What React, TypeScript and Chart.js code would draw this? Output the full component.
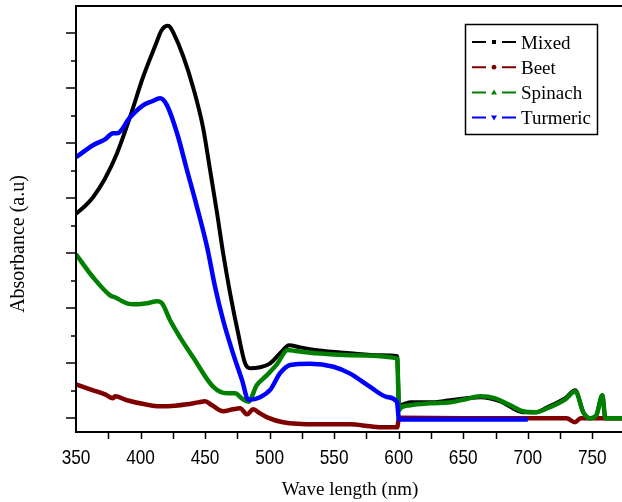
import { useEffect, useRef } from 'react';
import { Chart, registerables } from 'chart.js';

Chart.register(...registerables);

// Absorption spectra of the dye extracts (wavelength in nm, absorbance in a.u.)
const mixedNm = [350, 357, 363.2, 372.5, 381.8, 391.9, 401.9, 412.6, 415.9, 418.6, 420.6, 422.6, 425.4, 433.2, 440.7, 448.4, 453.9, 459.3, 464, 469.4, 475.6, 481, 484.9, 492.6, 500.4, 508.1, 515.1, 523.6, 536.8, 562.4, 585.7, 598.8, 600.3, 608.9, 624.4, 639.9, 663.2, 678.7, 696.5, 705.8, 715.1, 729.1, 736.8, 743, 748.4, 753.1, 757.8, 760.1, 773];
const mixedAbs = [1.86, 1.93, 2.01, 2.18, 2.41, 2.74, 3.1, 3.423, 3.52, 3.558, 3.568, 3.56, 3.505, 3.287, 3.01, 2.645, 2.255, 1.864, 1.5, 1.136, 0.773, 0.5, 0.455, 0.464, 0.5, 0.591, 0.664, 0.645, 0.618, 0.591, 0.573, 0.564, 0.118, 0.145, 0.145, 0.164, 0.191, 0.155, 0.055, 0.055, 0.1, 0.182, 0.255, 0.055, 0.0, 0.027, 0.209, 0.0, 0.0];

const beetNm = [350, 363.2, 372.5, 378.7, 380.2, 389.5, 403.5, 415.1, 426.7, 436, 444.6, 450, 455.4, 464, 471.7, 477.1, 482.6, 487.2, 492.6, 498.1, 510.5, 536.8, 562.4, 577.9, 588, 598.8, 600.3, 650, 700, 730, 736.5, 741, 773];
const beetAbs = [0.309, 0.255, 0.218, 0.182, 0.2, 0.164, 0.127, 0.109, 0.114, 0.127, 0.145, 0.155, 0.118, 0.064, 0.082, 0.091, 0.036, 0.082, 0.045, 0.009, -0.036, -0.055, -0.055, -0.073, -0.082, -0.082, 0.005, 0.0, 0.0, 0.0, -0.036, 0.0, 0.0];

const spinachNm = [350, 363.2, 376.4, 380.2, 389.5, 397.3, 405, 412.8, 416.7, 422.9, 430.6, 440.7, 456.4, 466.8, 473.3, 478.4, 483.6, 490, 497.8, 505.6, 514, 520, 536.8, 562.4, 598.8, 600.3, 601.2, 608.9, 624.4, 639.9, 651.6, 663.2, 674.8, 686.4, 696.5, 705.8, 715.1, 729.1, 736.8, 743, 748.4, 753.1, 757.8, 760.1, 773];
const spinachAbs = [1.491, 1.282, 1.118, 1.1, 1.045, 1.036, 1.045, 1.064, 1.045, 0.891, 0.736, 0.555, 0.285, 0.227, 0.227, 0.182, 0.151, 0.3, 0.39, 0.49, 0.62, 0.612, 0.591, 0.573, 0.545, 0.073, 0.091, 0.118, 0.136, 0.145, 0.173, 0.2, 0.182, 0.118, 0.064, 0.055, 0.091, 0.173, 0.245, 0.055, 0.0, 0.027, 0.209, 0.0, 0.0];

const turmericNm = [350, 363.2, 372.5, 378.7, 381.8, 391.9, 401.9, 408.9, 415.1, 420.5, 428.3, 436, 443.8, 451.6, 457.8, 464, 470.9, 478.7, 483.6, 492.6, 500.4, 508.1, 515.9, 531.4, 549.5, 562.4, 577.9, 590.9, 598.6, 600.3, 700];
const turmericAbs = [2.373, 2.482, 2.536, 2.591, 2.591, 2.736, 2.845, 2.882, 2.909, 2.845, 2.591, 2.255, 1.918, 1.555, 1.191, 0.891, 0.618, 0.345, 0.167, 0.192, 0.258, 0.41, 0.485, 0.497, 0.469, 0.406, 0.285, 0.194, 0.151, -0.01, -0.01];

const xMajorTicks = [350, 400, 450, 500, 550, 600, 650, 700, 750];
const xMinorTicks = [375, 425, 475, 525, 575, 625, 675, 725];
const yMajorTicks = [0, 0.5, 1, 1.5, 2, 2.5, 3, 3.5];
const yMinorTicks = [0.25, 0.75, 1.25, 1.75, 2.25, 2.75, 3.25];

const X_MIN = 350;
const X_MAX = 773;
const Y_MIN = -0.1245;
const Y_MAX = 3.748;

type Series = { label: string; nm: number[]; abs: number[]; color: string; width: number; marker: string };

const series: Series[] = [
  { label: 'Mixed', nm: mixedNm, abs: mixedAbs, color: '#000000', width: 4, marker: 'square' },
  { label: 'Beet', nm: beetNm, abs: beetAbs, color: '#800000', width: 4.5, marker: 'circle' },
  { label: 'Spinach', nm: spinachNm, abs: spinachAbs, color: '#008000', width: 4.5, marker: 'up' },
  { label: 'Turmeric', nm: turmericNm, abs: turmericAbs, color: '#0000FF', width: 4.5, marker: 'down' },
];

const SERIF = '"Liberation Serif", "Times New Roman", serif';
const SANS = '"Liberation Sans", Arial, sans-serif';

function drawMarker(ctx: CanvasRenderingContext2D, kind: string, x: number, y: number, color: string) {
  ctx.fillStyle = color;
  ctx.beginPath();
  if (kind === 'square') {
    ctx.rect(x - 2, y - 2, 4, 4);
  } else if (kind === 'circle') {
    ctx.arc(x, y, 2.4, 0, Math.PI * 2);
  } else if (kind === 'up') {
    ctx.moveTo(x, y - 3);
    ctx.lineTo(x + 3, y + 2.2);
    ctx.lineTo(x - 3, y + 2.2);
    ctx.closePath();
  } else {
    ctx.moveTo(x, y + 3);
    ctx.lineTo(x + 3, y - 2.2);
    ctx.lineTo(x - 3, y - 2.2);
    ctx.closePath();
  }
  ctx.fill();
}

// Axis frame, outward ticks, narrow tick labels, axis titles and the boxed legend
const framePlugin = {
  id: 'spectraFrame',
  afterDraw(chart: any) {
    const { ctx, chartArea } = chart;
    const { left, right, top, bottom } = chartArea;
    const xs = chart.scales.x;
    const ys = chart.scales.y;
    ctx.save();
    ctx.strokeStyle = '#000';
    ctx.lineCap = 'butt';

    ctx.lineWidth = 2;
    ctx.beginPath();
    ctx.moveTo(left, top - 1);
    ctx.lineTo(left, bottom + 1);
    ctx.moveTo(left - 1, bottom);
    ctx.lineTo(right, bottom);
    ctx.moveTo(left - 1, top);
    ctx.lineTo(right, top);
    ctx.stroke();

    ctx.lineWidth = 1.5;
    ctx.beginPath();
    for (const v of [...xMajorTicks, ...xMinorTicks]) {
      const px = Math.round(xs.getPixelForValue(v)) + 0.5;
      if (px <= left + 1) continue;
      ctx.moveTo(px, bottom);
      ctx.lineTo(px, bottom + 7);
    }
    for (const v of yMajorTicks) {
      const py = Math.round(ys.getPixelForValue(v));
      ctx.moveTo(left, py);
      ctx.lineTo(left - 10, py);
    }
    for (const v of yMinorTicks) {
      const py = Math.round(ys.getPixelForValue(v));
      ctx.moveTo(left, py);
      ctx.lineTo(left - 5, py);
    }
    ctx.stroke();

    // wavelength tick labels in a condensed face
    ctx.fillStyle = '#000';
    ctx.font = `21px ${SANS}`;
    ctx.textAlign = 'center';
    ctx.textBaseline = 'alphabetic';
    for (const t of xs.ticks) {
      const px = xs.getPixelForValue(t.value);
      ctx.save();
      ctx.translate(px, bottom + 32);
      ctx.scale(0.82, 1);
      ctx.fillText(String(t.value), 0, 0);
      ctx.restore();
    }

    ctx.font = `19px ${SERIF}`;
    ctx.textAlign = 'center';
    ctx.textBaseline = 'middle';
    ctx.fillText('Wave length (nm)', 350, 490);

    ctx.save();
    ctx.translate(19, 244);
    ctx.rotate(-Math.PI / 2);
    ctx.font = `20px ${SERIF}`;
    ctx.fillText('Absorbance (a.u)', 0, 0);
    ctx.restore();

    // legend
    const bx = 465.5;
    const by = 24.5;
    const bw = 132;
    const bh = 110;
    ctx.fillStyle = '#fff';
    ctx.fillRect(bx, by, bw, bh);
    ctx.lineWidth = 1.5;
    ctx.strokeStyle = '#000';
    ctx.strokeRect(bx, by, bw, bh);

    series.forEach((s, i) => {
      const cy = 42 + i * 25.2;
      ctx.strokeStyle = s.color;
      ctx.lineWidth = 2;
      ctx.beginPath();
      ctx.moveTo(472, cy);
      ctx.lineTo(486, cy);
      ctx.moveTo(502, cy);
      ctx.lineTo(516, cy);
      ctx.stroke();
      drawMarker(ctx, s.marker, 494, cy, s.color);
      ctx.fillStyle = '#000';
      ctx.font = `19px ${SERIF}`;
      ctx.textAlign = 'left';
      ctx.textBaseline = 'alphabetic';
      ctx.fillText(s.label, 521, cy + 6.5);
    });

    ctx.restore();
  },
};

export default function App() {
  const canvasRef = useRef<HTMLCanvasElement | null>(null);

  useEffect(() => {
    const canvas = canvasRef.current;
    if (!canvas) return;
    const chart = new Chart(canvas, {
      type: 'line',
      data: {
        datasets: series.map((s, i) => ({
          label: s.label,
          data: s.nm.map((x, k) => ({ x, y: s.abs[k] })),
          borderColor: s.color,
          backgroundColor: s.color,
          borderWidth: s.width,
          pointRadius: 0,
          fill: false,
          cubicInterpolationMode: 'monotone' as const,
          order: series.length - i,
        })),
      },
      options: {
        animation: false,
        responsive: false,
        devicePixelRatio: 1,
        layout: { padding: { top: 6, right: 0, left: 0, bottom: 0 } },
        plugins: {
          legend: { display: false },
          tooltip: { enabled: false },
        },
        scales: {
          x: {
            type: 'linear',
            min: X_MIN,
            max: X_MAX,
            grid: { display: false },
            border: { display: false },
            afterBuildTicks: (scale: any) => {
              scale.ticks = xMajorTicks.map((value) => ({ value }));
            },
            afterFit: (scale: any) => {
              scale.height = 70;
            },
            ticks: { display: false },
          },
          y: {
            type: 'linear',
            min: Y_MIN,
            max: Y_MAX,
            grid: { display: false },
            border: { display: false },
            ticks: { display: false },
            afterFit: (scale: any) => {
              scale.width = 76;
            },
          },
        },
      },
      plugins: [framePlugin],
    });
    return () => chart.destroy();
  }, []);

  return (
    <div style={{ position: 'fixed', left: 0, top: 0, width: 622, height: 502, background: '#fff' }}>
      <canvas ref={canvasRef} width={622} height={502} style={{ display: 'block' }} />
    </div>
  );
}
